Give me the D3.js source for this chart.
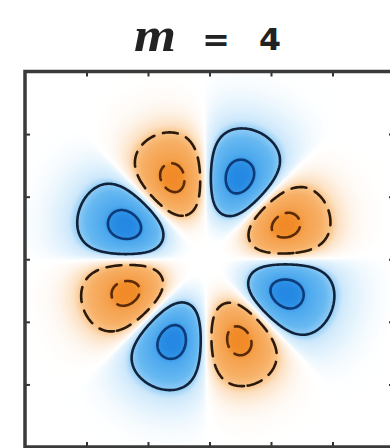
<!DOCTYPE html>
<html>
<head>
<meta charset="utf-8">
<script src="https://cdn.jsdelivr.net/npm/d3@7"></script>
<style>
  html, body { margin: 0; padding: 0; background: #fff; }
  svg { display: block; }
</style>
</head>
<body>
<svg id="chart" width="390" height="448"></svg>
<script>
// ── Data ──
const azimuthalOrder = [4];                       // m
const peakRadius = [1.41];                        // radius of the lobe ring (axis units)
const modeCenter = [-0.06, 0.0];                  // ring centre (x, y)
const angularSharpness = [0.75];                  // lobes a bit flatter than a pure cosine
const haloRing = [0.03, 2.0, 0.8];                // faint blue haze: amplitude, radius, width
const positiveLobeAngles = [67.5, 157.5, 247.5, 337.5];   // blue lobes, degrees
const negativeLobeAngles = [22.5, 112.5, 202.5, 292.5];   // orange lobes, degrees
const contourLevels = [-0.875, -0.36, 0.36, 0.875];
const xDomain = [-3, 3];
const yDomain = [-3, 3];
const xTicks = [-2, -1, 0, 1, 2];
const yTicks = [-2, -1, 0, 1, 2];

// ── Layout ──
const box = { left: 25, top: 71.5, right: 394, bottom: 447 };
const svg = d3.select('#chart');

const x = d3.scaleLinear().domain(xDomain).range([box.left, box.right]);
const y = d3.scaleLinear().domain(yDomain).range([box.bottom, box.top]);

// ── Field on a grid ──
const n = 260;
const m = azimuthalOrder[0];
const r0 = peakRadius[0];
const p = angularSharpness[0];
const phase = positiveLobeAngles[0] * Math.PI / 180;
const cellX = (xDomain[1] - xDomain[0]) / n;
const cellY = (yDomain[1] - yDomain[0]) / n;
const values = new Float64Array(n * n);
for (let j = 0; j < n; j++) {
  const yy = yDomain[1] - (j + 0.5) * cellY - modeCenter[1];
  for (let i = 0; i < n; i++) {
    const xx = xDomain[0] + (i + 0.5) * cellX - modeCenter[0];
    const r = Math.hypot(xx, yy);
    const rho = r / r0;
    const th = Math.atan2(yy, xx);
    const radial = Math.pow(rho, m) * Math.exp(m / 2 * (1 - rho * rho));
    const c = Math.cos(m * (th - phase));
    const halo = haloRing[0] * Math.exp(-Math.pow((r - haloRing[1]) / haloRing[2], 2));
    values[j * n + i] = radial * Math.sign(c) * Math.pow(Math.abs(c), p) + halo;
  }
}

// grid coords -> pixels through the scales
const toPixels = d3.geoTransform({
  point: function(gx, gy) {
    this.stream.point(x(xDomain[0] + gx * cellX), y(yDomain[1] - gy * cellY));
  }
});
const path = d3.geoPath(toPixels);

const blueRamp = d3.scaleLinear()
  .domain([0, 0.1, 0.25, 0.36, 0.5, 0.8, 0.9, 1])
  .range(['#ffffff', '#e6f4fd', '#cde8fb', '#8fcbf5', '#68b9f1', '#4ea9ed', '#2f92e6', '#2588e2'])
  .clamp(true);
const orangeRamp = d3.scaleLinear()
  .domain([0, 0.1, 0.25, 0.36, 0.5, 0.8, 0.9, 1])
  .range(['#ffffff', '#fef5ec', '#fce1c3', '#f9c386', '#f7b168', '#f5a24f', '#f2902e', '#f08826'])
  .clamp(true);

// ── Clip ──
svg.append('defs').append('clipPath').attr('id', 'plot-clip')
  .append('rect')
  .attr('x', box.left).attr('y', box.top)
  .attr('width', box.right - box.left).attr('height', box.bottom - box.top);

const plot = svg.append('g').attr('clip-path', 'url(#plot-clip)');

plot.append('rect')
  .attr('x', box.left).attr('y', box.top)
  .attr('width', box.right - box.left).attr('height', box.bottom - box.top)
  .attr('fill', '#fff');

// smooth shading: stacked filled contours, ascending magnitude
const fillLevels = d3.range(0.004, 1.001, 0.008);
const contours = d3.contours().size([n, n]);
const flipped = values.map(v => -v);

plot.append('g')
  .selectAll('path')
  .data(contours.thresholds(fillLevels)(values))
  .join('path')
  .attr('d', path)
  .attr('fill', d => blueRamp(d.value));

plot.append('g')
  .selectAll('path')
  .data(contours.thresholds(fillLevels)(flipped))
  .join('path')
  .attr('d', path)
  .attr('fill', d => orangeRamp(d.value));

// contour lines
const lineData = contourLevels.map(level => {
  const c = level > 0
    ? contours.thresholds([level])(values)[0]
    : contours.thresholds([-level])(flipped)[0];
  c.level = level;
  return c;
});

const lineColor = d => d.level > 0.5 ? '#0d3a78' : d.level > 0 ? '#10233a' : d.level < -0.5 ? '#5a2a08' : '#2b1a0c';

plot.append('g')
  .selectAll('path')
  .data(lineData)
  .join('path')
  .attr('d', path)
  .attr('fill', 'none')
  .attr('stroke', lineColor)
  .attr('stroke-width', 2.6)
  .attr('stroke-linejoin', 'round')
  .attr('stroke-linecap', 'round')
  .attr('stroke-dasharray', d => d.level > 0 ? null : '15,9');

// ── Axes (inward ticks, no labels) ──
const tickStyle = g => {
  g.select('.domain').remove();
  g.selectAll('.tick line').attr('stroke', '#333').attr('stroke-width', 2);
};
svg.append('g').attr('transform', `translate(0,${box.top})`)
  .call(d3.axisTop(x).tickValues(xTicks).tickSize(-5).tickFormat(() => ''))
  .call(tickStyle);
svg.append('g').attr('transform', `translate(0,${box.bottom})`)
  .call(d3.axisBottom(x).tickValues(xTicks).tickSize(-5).tickFormat(() => ''))
  .call(tickStyle);
svg.append('g').attr('transform', `translate(${box.left},0)`)
  .call(d3.axisLeft(y).tickValues(yTicks).tickSize(-5).tickFormat(() => ''))
  .call(tickStyle);
svg.append('g').attr('transform', `translate(${box.right},0)`)
  .call(d3.axisRight(y).tickValues(yTicks).tickSize(-5).tickFormat(() => ''))
  .call(tickStyle);

svg.append('rect')
  .attr('x', box.left).attr('y', box.top)
  .attr('width', box.right - box.left).attr('height', box.bottom - box.top)
  .attr('fill', 'none').attr('stroke', '#3a3a3a').attr('stroke-width', 3.5);

// ── Title ──
const title = svg.append('g').attr('fill', '#222');
title.append('text')
  .attr('x', 134).attr('y', 51)
  .attr('font-family', 'Liberation Serif, serif').attr('font-style', 'italic')
  .attr('font-weight', 'bold').attr('font-size', 48)
  .attr('textLength', 42).attr('lengthAdjust', 'spacingAndGlyphs')
  .text('m');
title.append('text')
  .attr('x', 202).attr('y', 51)
  .attr('font-family', 'DejaVu Sans, sans-serif').attr('font-weight', 'bold').attr('font-size', 32)
  .attr('textLength', 28).attr('lengthAdjust', 'spacingAndGlyphs')
  .text('=');
title.append('text')
  .attr('x', 259).attr('y', 50)
  .attr('font-family', 'DejaVu Sans, sans-serif').attr('font-weight', 'bold').attr('font-size', 31)
  .attr('textLength', 22).attr('lengthAdjust', 'spacingAndGlyphs')
  .text('4');
</script>
</body>
</html>
